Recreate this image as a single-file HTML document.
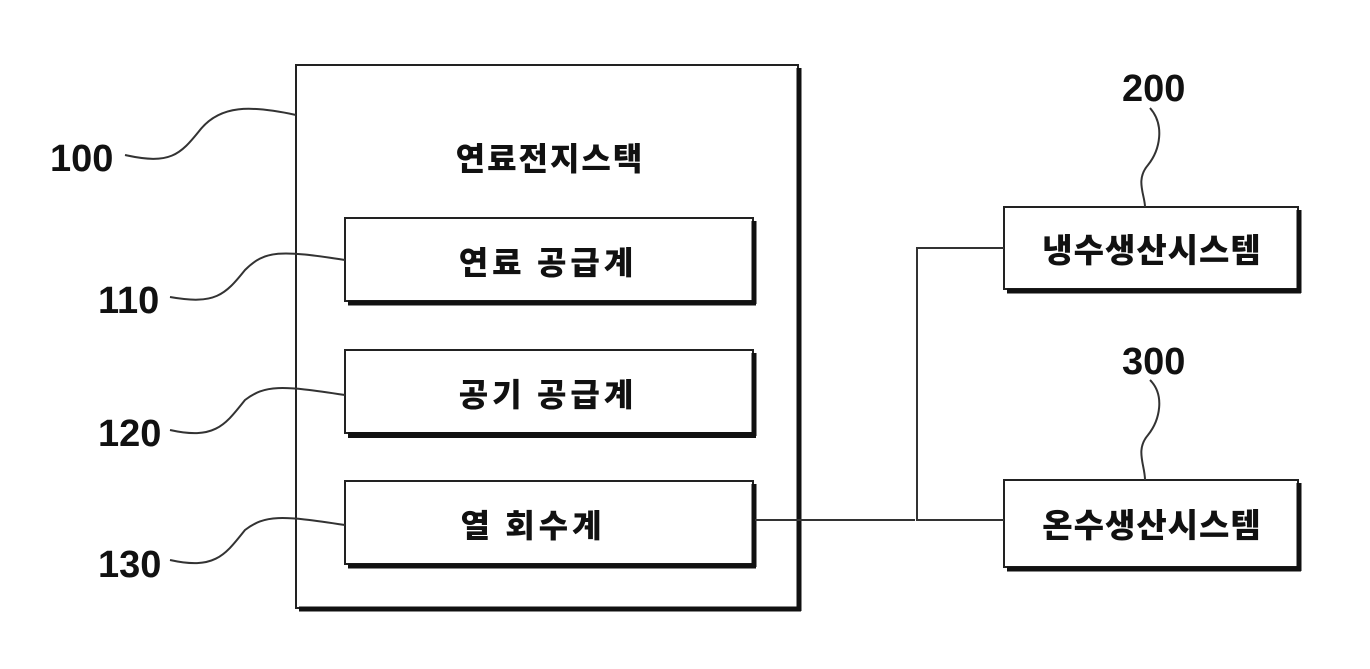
<!DOCTYPE html>
<html><head><meta charset="utf-8"><style>
body{margin:0;background:#fff;}
svg{display:block}
text{font-family:"Liberation Sans","Noto Sans CJK KR","NanumGothic",sans-serif;font-weight:bold;fill:#111}
.k{font-family:"Noto Sans CJK KR","NanumGothic",sans-serif;font-weight:900}
</style></head><body>
<svg width="1370" height="669" viewBox="0 0 1370 669">
<rect x="296" y="65" width="502" height="543" fill="#fff" stroke="#222" stroke-width="2"/>
<line x1="799" y1="68" x2="799" y2="611" stroke="#111" stroke-width="5"/>
<line x1="299" y1="609" x2="801" y2="609" stroke="#111" stroke-width="5"/>
<text class="k" x="550" y="170" font-size="32" text-anchor="middle" letter-spacing="2">연료전지스택</text>
<g>
<rect x="345" y="218" width="408" height="83" fill="#fff" stroke="#222" stroke-width="2"/>
<line x1="754" y1="221" x2="754" y2="304" stroke="#111" stroke-width="5"/>
<line x1="348" y1="303" x2="756" y2="303" stroke="#111" stroke-width="5"/>
<text class="k" x="548" y="274" font-size="32" text-anchor="middle" letter-spacing="4">연료 공급계</text>
</g>
<g>
<rect x="345" y="350" width="408" height="83" fill="#fff" stroke="#222" stroke-width="2"/>
<line x1="754" y1="353" x2="754" y2="436" stroke="#111" stroke-width="5"/>
<line x1="348" y1="435" x2="756" y2="435" stroke="#111" stroke-width="6"/>
<text class="k" x="548" y="406" font-size="32" text-anchor="middle" letter-spacing="4">공기 공급계</text>
</g>
<g>
<rect x="345" y="481" width="408" height="83" fill="#fff" stroke="#222" stroke-width="2"/>
<line x1="754" y1="484" x2="754" y2="567" stroke="#111" stroke-width="5"/>
<line x1="348" y1="566" x2="756" y2="566" stroke="#111" stroke-width="5"/>
<text class="k" x="533" y="537" font-size="32" text-anchor="middle" letter-spacing="4">열 회수계</text>
</g>
<g>
<rect x="1004" y="207" width="294" height="82" fill="#fff" stroke="#222" stroke-width="2"/>
<line x1="1299" y1="210" x2="1299" y2="293" stroke="#111" stroke-width="5"/>
<line x1="1007" y1="291" x2="1301" y2="291" stroke="#111" stroke-width="5"/>
<text class="k" x="1152" y="262" font-size="33" text-anchor="middle" letter-spacing="1">냉수생산시스템</text>
</g>
<g>
<rect x="1004" y="480" width="294" height="87" fill="#fff" stroke="#222" stroke-width="2"/>
<line x1="1299" y1="483" x2="1299" y2="571" stroke="#111" stroke-width="5"/>
<line x1="1007" y1="569" x2="1301" y2="569" stroke="#111" stroke-width="5"/>
<text class="k" x="1152" y="537" font-size="33" text-anchor="middle" letter-spacing="1">온수생산시스템</text>
</g>
<g stroke="#333" stroke-width="2" fill="none">
<polyline points="755,520 915,520"/>
<polyline points="1004,248 917,248 917,520 1004,520"/>
<path d="M125,155 C170,165 180,155 200,130 C220,105 250,105 296,115"/>
<path d="M170,297 C215,305 225,295 245,270 C265,250 280,250 345,260"/>
<path d="M170,430 C215,440 225,425 245,400 C265,385 280,385 345,395"/>
<path d="M170,560 C215,570 225,555 245,530 C265,515 280,515 345,525"/>
<path d="M1150,108 C1165,125 1160,150 1148,165 C1135,180 1145,195 1145,207"/>
<path d="M1150,380 C1165,395 1160,420 1148,435 C1135,450 1145,465 1145,480"/>
</g>
<text x="50" y="171" font-size="38">100</text>
<text x="98" y="313" font-size="38">110</text>
<text x="98" y="446" font-size="38">120</text>
<text x="98" y="577" font-size="38">130</text>
<text x="1122" y="101" font-size="38">200</text>
<text x="1122" y="374" font-size="38">300</text>
</svg>
</body></html>
